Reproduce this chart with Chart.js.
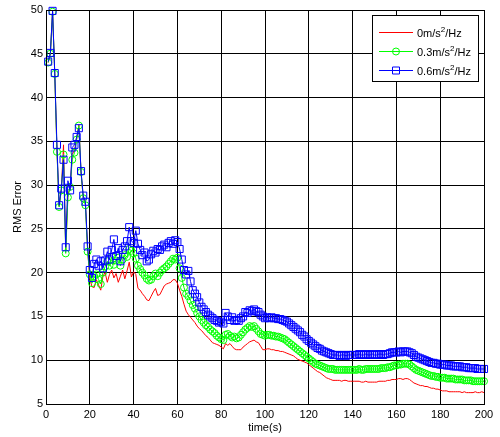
<!DOCTYPE html>
<html>
<head>
<meta charset="utf-8">
<script src="https://cdn.jsdelivr.net/npm/chart.js@4.4.0/dist/chart.umd.min.js"></script>
<style>
  html, body { margin: 0; padding: 0; background: #fff; }
  #wrap { width: 500px; height: 437px; }
</style>
</head>
<body>
<div id="wrap"><canvas id="rmsChart" width="500" height="437"></canvas></div>
<script>
// time axis: one sample per second
const timeSec = Array.from({ length: 200 }, (_, i) => i + 1);

// 0 m/s^2/Hz (red line)
const rms0 = [
  44.0, 45.0, 49.8, 42.7, 34.0, 27.6, 29.5, 34.6, 22.5, 29.0,
  29.6, 33.5, 34.0, 35.3, 36.9, 31.4, 28.6, 27.9, 22.6, 19.3,
  18.4, 18.3, 19.2, 18.6, 18.0, 19.6, 20.0, 18.9, 19.8, 20.3,
  19.4, 19.9, 18.9, 19.6, 20.3, 19.3, 20.2, 21.2, 19.5, 20.1,
  19.8, 18.2, 18.0, 17.6, 17.3, 16.9, 16.8, 17.3, 17.8, 18.2,
  17.4, 17.5, 18.0, 18.5, 18.7, 18.8, 18.9, 19.2, 19.2, 18.8,
  18.0, 17.3, 16.4, 15.6, 15.2, 14.9, 14.6, 14.3, 13.9, 13.6,
  13.4, 13.1, 12.8, 12.6, 12.3, 12.0, 11.9, 11.8, 11.7, 11.5,
  11.3, 11.9, 11.7, 11.9, 11.6, 11.3, 11.2, 11.2, 11.2, 11.5,
  11.7, 11.9, 12.1, 12.2, 12.3, 12.1, 12.0, 11.6, 11.2, 11.2,
  11.3, 11.3, 11.2, 11.2, 11.1, 11.1, 11.0, 11.0, 10.9, 10.8,
  10.7, 10.6, 10.5, 10.3, 10.1, 10.0, 9.9, 9.8, 9.7, 9.5,
  9.3, 9.1, 8.9, 8.7, 8.6, 8.4, 8.2, 8.0, 7.9, 7.8,
  7.7, 7.7, 7.7, 7.7, 7.6, 7.7, 7.7, 7.6, 7.6, 7.6,
  7.6, 7.6, 7.6, 7.5, 7.5, 7.6, 7.5, 7.5, 7.5, 7.5,
  7.5, 7.6, 7.6, 7.6, 7.6, 7.7, 7.7, 7.8, 7.8, 7.8,
  7.9, 7.9, 7.8, 7.9, 7.9, 7.8, 7.6, 7.4, 7.3, 7.2,
  7.1, 7.1, 7.0, 7.0, 6.9, 6.8, 6.8, 6.7, 6.7, 6.6,
  6.5, 6.5, 6.5, 6.4, 6.4, 6.4, 6.4, 6.4, 6.4, 6.3,
  6.4, 6.3, 6.3, 6.3, 6.3, 6.4, 6.3, 6.3, 6.4, 6.3
];

// 0.3 m/s^2/Hz (green circles)
const rms03 = [
  44.0, 45.0, 49.8, 42.7, 33.8, 27.5, 29.4, 33.5, 22.2, 28.6,
  29.8, 32.9, 33.7, 35.2, 36.8, 31.5, 28.5, 27.7, 22.4, 19.8,
  18.8, 19.6, 19.8, 19.2, 18.7, 20.0, 20.7, 21.3, 20.8, 21.8,
  20.9, 21.4, 21.7, 20.8, 21.5, 22.0, 21.8, 22.7, 22.5, 22.2,
  21.6, 20.8, 20.4, 20.0, 19.7, 19.3, 19.1, 19.2, 19.6, 19.9,
  19.6, 20.0, 20.3, 20.5, 20.7, 21.0, 21.3, 21.6, 21.5, 21.7,
  20.5, 19.4, 18.3, 17.6, 17.3, 16.8, 16.3, 15.9, 15.4, 15.0,
  14.6, 14.3, 14.0, 13.8, 13.5, 13.3, 13.1, 12.8, 12.6, 12.4,
  12.3, 12.9, 13.0, 12.8, 12.6, 12.7, 12.5, 12.6, 12.9, 13.2,
  13.5, 13.7, 13.9, 13.8, 13.9, 13.6, 13.3, 13.0, 12.9, 12.8,
  12.9, 12.9, 12.8, 12.8, 12.7, 12.7, 12.6, 12.5, 12.4, 12.2,
  12.0, 11.8, 11.6, 11.4, 11.2, 11.0, 10.8, 10.6, 10.4, 10.2,
  10.0, 9.8, 9.6, 9.5, 9.4, 9.3, 9.2, 9.1, 9.0, 9.0,
  9.0, 8.9, 8.9, 8.9, 8.9, 8.9, 8.9, 8.9, 8.9, 8.9,
  8.9, 8.9, 9.0, 8.9, 8.9, 9.0, 9.0, 9.0, 9.0, 9.0,
  9.0, 9.0, 9.1, 9.1, 9.1, 9.2, 9.2, 9.3, 9.4, 9.4,
  9.5, 9.5, 9.6, 9.6, 9.6, 9.5, 9.3, 9.1, 8.9, 8.8,
  8.7, 8.6, 8.5, 8.4, 8.3, 8.2, 8.2, 8.1, 8.1, 8.0,
  8.0, 8.0, 7.9, 7.9, 7.9, 7.9, 7.8, 7.8, 7.8, 7.8,
  7.7, 7.7, 7.7, 7.7, 7.6, 7.6, 7.6, 7.6, 7.6, 7.6
];

// 0.6 m/s^2/Hz (blue squares)
const rms06 = [
  44.1, 45.1, 49.9, 42.8, 34.6, 27.7, 29.6, 32.9, 22.9, 30.5,
  29.4, 34.3, 34.6, 35.5, 36.5, 31.6, 28.8, 28.1, 23.0, 20.3,
  19.4, 21.0, 21.5, 20.8, 21.3, 20.5, 21.4, 22.4, 21.5, 22.6,
  23.8, 21.9, 22.8, 21.3, 22.6, 23.0, 23.6, 25.2, 23.6, 23.4,
  24.8, 23.3, 22.6, 22.0, 22.3, 21.3, 21.5, 22.1, 22.5, 22.3,
  22.7, 22.6, 23.0, 23.2, 22.9, 23.4, 23.6, 23.3, 23.7, 23.5,
  22.7, 21.5, 20.3, 19.8, 20.2, 19.0, 18.0, 17.6, 17.2, 16.6,
  16.1, 15.8, 15.5, 15.2, 15.0, 14.8, 14.6, 14.5, 14.3, 14.4,
  14.2, 15.4, 15.0, 14.6, 14.9, 14.5, 14.6, 14.5, 14.8, 15.0,
  15.5, 15.4, 15.7, 15.6, 15.8, 15.6, 15.5, 15.2, 15.0, 14.8,
  14.9, 14.8, 14.9, 14.8, 14.8, 14.7, 14.7, 14.6, 14.5, 14.4,
  14.2, 14.0, 13.8, 13.6, 13.4, 13.2, 12.9, 12.7, 12.4, 12.2,
  12.0, 11.8, 11.6, 11.4, 11.3, 11.1, 11.0, 10.9, 10.8, 10.7,
  10.6, 10.6, 10.6, 10.5, 10.6, 10.6, 10.5, 10.6, 10.6, 10.6,
  10.6, 10.6, 10.7, 10.6, 10.6, 10.7, 10.6, 10.6, 10.7, 10.6,
  10.6, 10.7, 10.7, 10.6, 10.7, 10.7, 10.8, 10.9, 10.9, 10.9,
  11.0, 10.9, 11.0, 11.0, 11.0, 10.9, 10.8, 10.6, 10.4, 10.3,
  10.2, 10.1, 10.0, 9.9, 9.8, 9.7, 9.7, 9.6, 9.6, 9.5,
  9.5, 9.5, 9.4, 9.4, 9.4, 9.3, 9.3, 9.3, 9.3, 9.2,
  9.2, 9.2, 9.1, 9.1, 9.1, 9.1, 9.0, 9.0, 9.0, 9.0
];

const seriesNames = ['0m/s^2/Hz', '0.3m/s^2/Hz', '0.6m/s^2/Hz'];
const xTicks = [0, 20, 40, 60, 80, 100, 120, 140, 160, 180, 200];
const yTicks = [5, 10, 15, 20, 25, 30, 35, 40, 45, 50];

const FONT = '"Liberation Sans", Arial, sans-serif';

function toPoints(values) {
  return values.map((v, i) => ({ x: timeSec[i], y: v }));
}

// MATLAB style box around the axes
const axesBox = {
  id: 'axesBox',
  afterDatasetsDraw(chart) {
    const a = chart.chartArea;
    const ctx = chart.ctx;
    ctx.save();
    ctx.strokeStyle = '#000';
    ctx.lineWidth = 1;
    ctx.strokeRect(Math.round(a.left) + 0.5, Math.round(a.top) + 0.5,
      Math.round(a.right - a.left), Math.round(a.bottom - a.top));
    ctx.restore();
  }
};

// legend box in the top right, with superscript units
const boxLegend = {
  id: 'boxLegend',
  afterDraw(chart) {
    const ctx = chart.ctx;
    const bx = 372.5, by = 15.5, bw = 106, bh = 66;
    const rows = [32, 51, 70];
    ctx.save();
    ctx.fillStyle = '#fff';
    ctx.fillRect(bx, by, bw, bh);
    ctx.strokeStyle = '#000';
    ctx.lineWidth = 1;
    ctx.strokeRect(bx, by, bw, bh);

    chart.data.datasets.forEach((ds, i) => {
      const y = rows[i] + 0.5;
      ctx.strokeStyle = ds.borderColor;
      ctx.lineWidth = 1;
      ctx.beginPath();
      ctx.moveTo(379, y);
      ctx.lineTo(413, y);
      ctx.stroke();
      if (ds.pointRadius > 0) {
        ctx.beginPath();
        if (ds.pointStyle === 'rect') {
          ctx.rect(392.5, y - 3.5, 7, 7);
        } else {
          ctx.arc(396, y, 3.5, 0, Math.PI * 2);
        }
        ctx.stroke();
      }
      // text with raised "2"
      const parts = seriesNames[i].split('^');
      let x = 417;
      ctx.fillStyle = '#000';
      ctx.textBaseline = 'middle';
      ctx.font = '11px ' + FONT;
      ctx.fillText(parts[0], x, y + 1);
      x += ctx.measureText(parts[0]).width;
      ctx.font = '8px ' + FONT;
      ctx.fillText(parts[1].charAt(0), x, y - 3);
      x += ctx.measureText(parts[1].charAt(0)).width;
      ctx.font = '11px ' + FONT;
      ctx.fillText(parts[1].slice(1), x, y + 1);
    });
    ctx.restore();
  }
};

const ctx = document.getElementById('rmsChart').getContext('2d');

new Chart(ctx, {
  type: 'line',
  data: {
    datasets: [
      {
        label: seriesNames[0],
        data: toPoints(rms0),
        borderColor: '#ff0000',
        borderWidth: 1,
        pointRadius: 0,
        tension: 0,
        order: 2
      },
      {
        label: seriesNames[1],
        data: toPoints(rms03),
        borderColor: '#00ff00',
        borderWidth: 1,
        pointStyle: 'circle',
        pointRadius: 3.5,
        pointBorderWidth: 1,
        pointBorderColor: '#00ff00',
        pointBackgroundColor: 'rgba(0,0,0,0)',
        tension: 0,
        clip: false,
        order: 1
      },
      {
        label: seriesNames[2],
        data: toPoints(rms06),
        borderColor: '#0000ff',
        borderWidth: 1,
        pointStyle: 'rect',
        pointRadius: 5,
        pointBorderWidth: 1,
        pointBorderColor: '#0000ff',
        pointBackgroundColor: 'rgba(0,0,0,0)',
        tension: 0,
        clip: false,
        order: 0
      }
    ]
  },
  options: {
    responsive: false,
    animation: false,
    layout: { padding: { top: 10, right: 16, left: 0, bottom: 0 } },
    plugins: {
      legend: { display: false },
      tooltip: { enabled: false }
    },
    scales: {
      x: {
        type: 'linear',
        min: 0,
        max: 200,
        afterBuildTicks: s => { s.ticks = xTicks.map(v => ({ value: v })); },
        afterFit: s => { s.height = 33; },
        grid: { color: '#000', lineWidth: 1, drawTicks: false },
        border: { display: false },
        ticks: { color: '#000', padding: 4, maxRotation: 0, font: { family: FONT, size: 11 } },
        title: {
          display: true,
          text: 'time(s)',
          color: '#000',
          font: { family: FONT, size: 11 },
          padding: { top: 0, bottom: 2 }
        }
      },
      y: {
        type: 'linear',
        min: 5,
        max: 50,
        afterBuildTicks: s => { s.ticks = yTicks.map(v => ({ value: v })); },
        afterFit: s => { s.width = 46; },
        grid: { color: '#000', lineWidth: 1, drawTicks: false },
        border: { display: false },
        ticks: { color: '#000', padding: 3, font: { family: FONT, size: 11 } },
        title: {
          display: true,
          text: 'RMS Error',
          color: '#000',
          font: { family: FONT, size: 11 },
          padding: { top: 11, bottom: 0 }
        }
      }
    }
  },
  plugins: [axesBox, boxLegend]
});
</script>
</body>
</html>
